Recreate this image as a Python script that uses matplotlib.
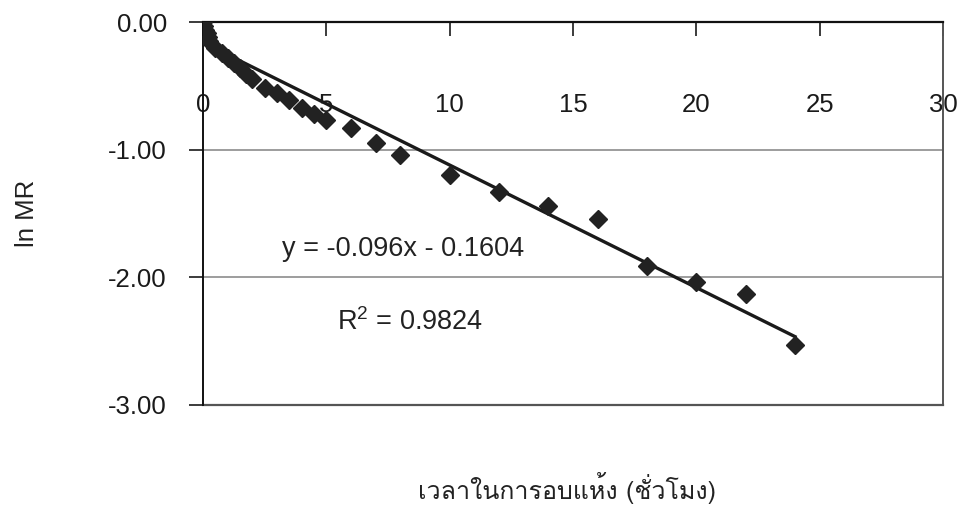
import matplotlib
matplotlib.use("Agg")
import matplotlib.pyplot as plt
from matplotlib import font_manager
import numpy as np

# ---- data ----
time_h = [0, 0.05, 0.1, 0.15, 0.2, 0.25, 0.5, 0.75, 1.0, 1.25, 1.5, 1.75,
          2.0, 2.5, 3.0, 3.5, 4.0, 4.5, 5.0, 6.0, 7.0, 8.0,
          10, 12, 14, 16, 18, 20, 22, 24]
ln_mr = [0, -0.03, -0.06, -0.09, -0.12, -0.15, -0.20, -0.24, -0.28, -0.32, -0.36, -0.41,
         -0.45, -0.52, -0.56, -0.61, -0.67, -0.72, -0.77, -0.83, -0.945, -1.04,
         -1.20, -1.33, -1.44, -1.54, -1.91, -2.04, -2.13, -2.53]
slope = -0.096
intercept = -0.1604
r2 = 0.9824
xticks = [0, 5, 10, 15, 20, 25, 30]
yticks = [0, -1, -2, -3]
xlabel = "เวลาในการอบแห้ง (ชั่วโมง)"
ylabel = "ln MR"

available = {f.name for f in font_manager.fontManager.ttflist}
thai_font = None
for cand in ["Loma", "Tahoma", "Garuda", "IBM Plex Sans Thai Looped",
             "Noto Sans Thai Looped", "Noto Sans Thai"]:
    if cand in available:
        thai_font = cand
        break

base = "Liberation Sans"
plt.rcParams['font.family'] = [base, 'DejaVu Sans']
plt.rcParams['mathtext.fontset'] = 'custom'
plt.rcParams['mathtext.rm'] = base
plt.rcParams['mathtext.it'] = base

fig = plt.figure(figsize=(9.64, 5.24), dpi=100)
ax = fig.add_axes([203/964, 1-405/524, 740/964, 383/524])

ax.set_xlim(0, 30)
ax.set_ylim(-3, 0)

xs = np.array([min(time_h), max(time_h)])
ax.plot(xs, slope*xs + intercept, color='#1a1a1a', lw=2.4, zorder=3)
ax.plot(time_h, ln_mr, linestyle='none', marker='D', markersize=9,
        color='#222222', zorder=4)

for yv in [-1, -2]:
    ax.axhline(yv, color='#8c8c8c', lw=1.2, zorder=1)

ax.spines['bottom'].set_position(('data', 0))
ax.spines['bottom'].set_color('#111111')
ax.spines['bottom'].set_linewidth(1.6)
ax.spines['top'].set_visible(False)
ax.spines['left'].set_color('#111111')
ax.spines['left'].set_linewidth(1.4)
ax.spines['right'].set_color('#555555')
ax.spines['right'].set_linewidth(1.4)
ax.axhline(-3, color='#555555', lw=1.6, zorder=2, clip_on=False)

ax.set_xticks(xticks)
ax.set_xticklabels([str(v) for v in xticks])
ax.set_yticks(yticks)
ax.set_yticklabels([f"{v:.2f}" for v in yticks])
ax.tick_params(axis='x', direction='out', length=10, width=1.2, pad=41,
               labelsize=18.5, colors='#1a1a1a')
ax.tick_params(axis='y', direction='out', length=10, width=1.2, pad=16,
               labelsize=18.5, colors='#1a1a1a')

ax.text(3.2, -1.78, "y = -0.096x - 0.1604", fontsize=19.5, color='#222222',
        va='center', ha='left')
ax.text(5.45, -2.35, f"R$^2$ = {r2}", fontsize=19.5, color='#222222',
        va='center', ha='left')

ax.set_ylabel(ylabel, fontsize=18.5, color='#222222', labelpad=50)
fam = [thai_font, base] if thai_font else [base]
fig.text(567/964, 1-488/524, xlabel, fontsize=18, family=fam,
         ha='center', va='center', color='#222222')

fig.savefig("out.png", dpi=100)
